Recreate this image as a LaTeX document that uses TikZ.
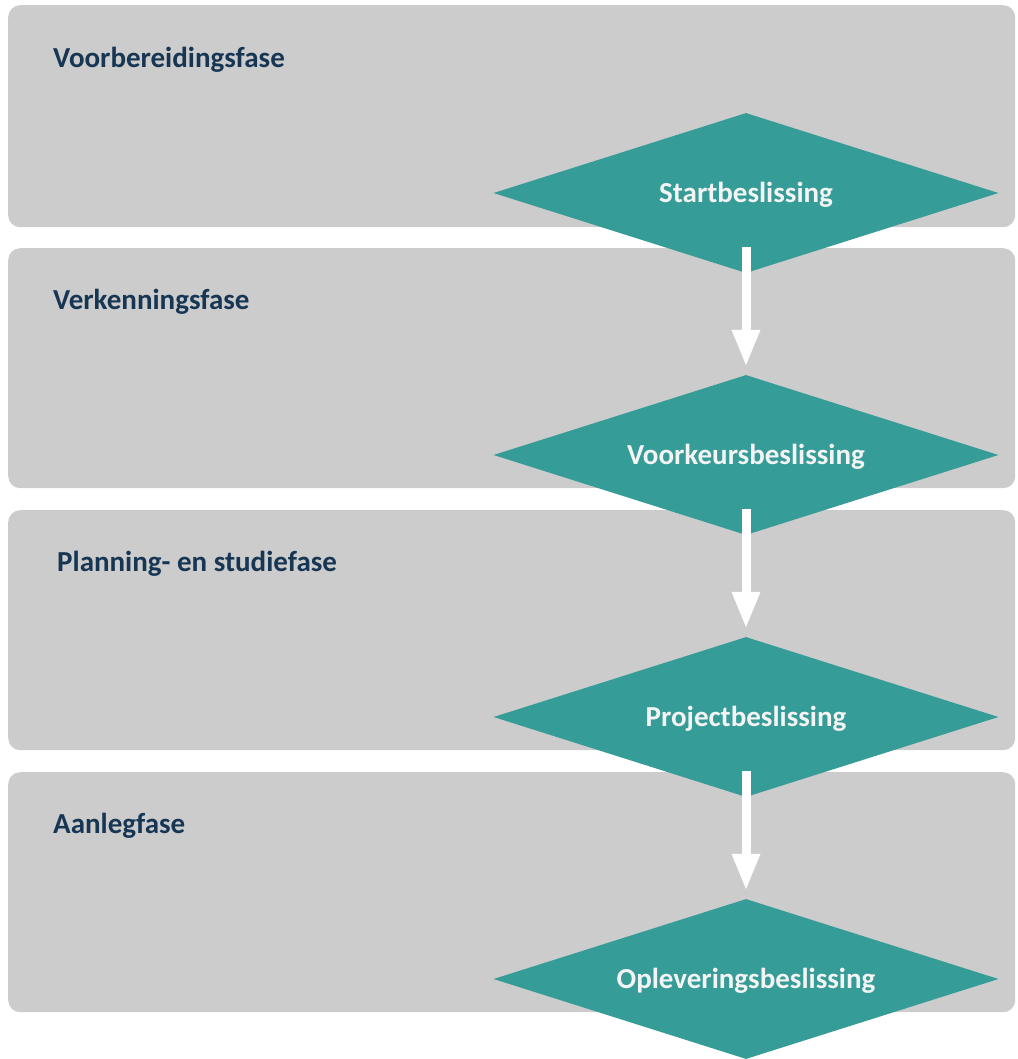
\documentclass[tikz,border=0pt]{standalone}
\usepackage{fontspec}
\setmainfont{Carlito}
\usetikzlibrary{shapes.geometric,arrows.meta}
\definecolor{boxgray}{RGB}{204,204,204}
\definecolor{teal}{RGB}{54,156,151}
\definecolor{navy}{RGB}{22,54,84}
\definecolor{offwhite}{RGB}{244,244,244}
\tikzset{
  phase/.style={fill=boxgray, rounded corners=12pt, anchor=north west, inner sep=0pt, minimum width=1007pt},
  phaselabel/.style={anchor=base west, text=navy, font=\fontsize{29}{34}\selectfont\bfseries, inner sep=0pt},
  decision/.style={diamond, aspect=3.15, fill=teal, text=offwhite, inner sep=0pt, minimum width=505pt, minimum height=160pt, text height=18.7pt, text depth=0pt, font=\fontsize{29}{34}\selectfont\bfseries},
  flow/.style={draw=white, line width=9pt, -{Triangle[width=26pt,length=37pt]}}
}
\begin{document}
\begin{tikzpicture}[x=1pt,y=-1pt]
\useasboundingbox (0,0) rectangle (1017,1059);
\node[phase, minimum height=222pt] (p1) at (8,5) {};
\node[phase, minimum height=240pt] (p2) at (8,248) {};
\node[phase, minimum height=240pt] (p3) at (8,510) {};
\node[phase, minimum height=240pt] (p4) at (8,772) {};
\node[phaselabel] (l1) at (53,68) {Voorbereidingsfase};
\node[phaselabel] (l2) at (53,309) {Verkenningsfase};
\node[phaselabel] (l3) at (57,571) {Planning- en studiefase};
\node[phaselabel] (l4) at (53,833) {Aanlegfase};
\node[decision] (d1) at (746,193) {Startbeslissing};
\node[decision] (d2) at (746,455) {Voorkeursbeslissing};
\node[decision] (d3) at (746,717) {Projectbeslissing};
\node[decision] (d4) at (746,979) {Opleveringsbeslissing};
\draw[flow] ([yshift=-54pt]d1.center) -- ([yshift=8pt]d2.north);
\draw[flow] ([yshift=-54pt]d2.center) -- ([yshift=8pt]d3.north);
\draw[flow] ([yshift=-54pt]d3.center) -- ([yshift=8pt]d4.north);
\end{tikzpicture}
\end{document}
